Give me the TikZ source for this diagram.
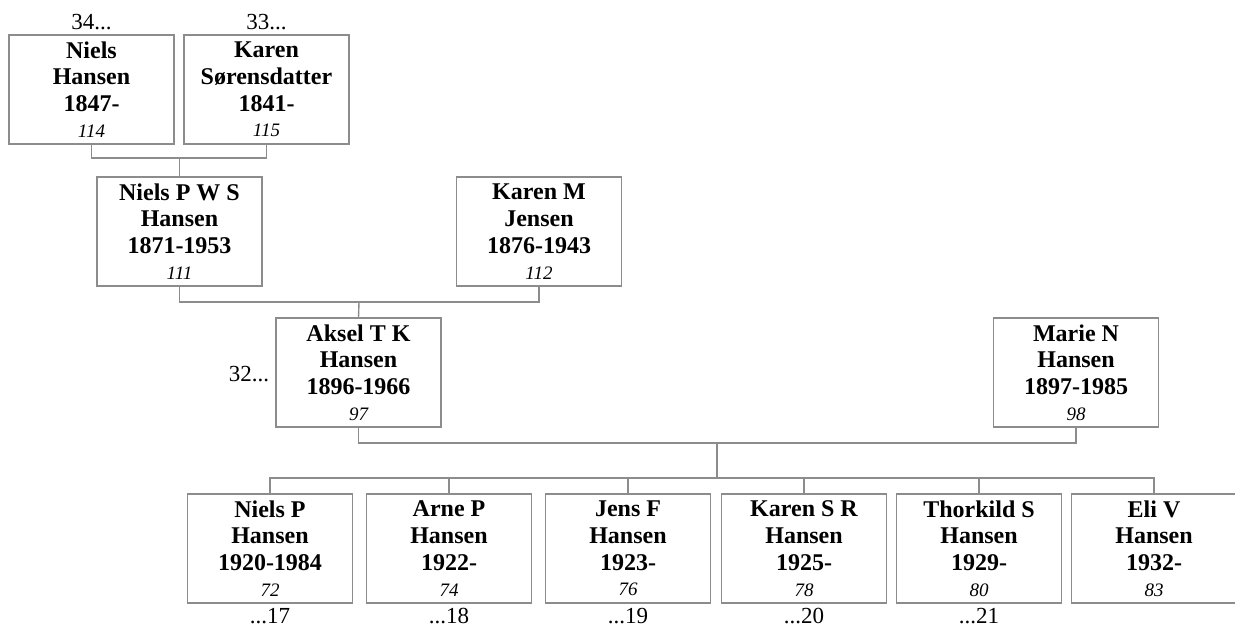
\documentclass[tikz,border=0pt]{standalone}
\usepackage{fontspec}
\setmainfont{Liberation Serif}
\definecolor{lc}{RGB}{140,140,140}
\begin{document}
\begin{tikzpicture}[x=1pt,y=-1pt,
  person/.style={draw=lc, line width=1.4pt, fill=white, minimum width=165pt, minimum height=109pt,
    inner sep=0pt, align=center, font=\fontsize{24}{26.8}\selectfont\bfseries},
  lbl/.style={font=\fontsize{23}{26}\selectfont, inner sep=0pt},
  conn/.style={draw=lc, line width=1.4pt}]
\useasboundingbox (0,0) rectangle (1235,628);
\newcommand{\pers}[4]{#1\\#2\\#3\\[-1pt]{\fontsize{19}{22}\selectfont\mdseries\itshape #4}}
% generation 1
\node[person] (n1) at (91.5,89.5) {\pers{Niels}{Hansen}{1847-}{114}};
\node[person] (k1) at (266.5,89.5) {\pers{Karen}{Sørensdatter}{1841-}{115}};
% generation 2
\node[person] (np) at (179.5,231.5) {\pers{Niels P W S}{Hansen}{1871-1953}{111}};
\node[person] (km) at (539,231.5) {\pers{Karen M}{Jensen}{1876-1943}{112}};
% generation 3
\node[person] (ak) at (358.5,372.5) {\pers{Aksel T K}{Hansen}{1896-1966}{97}};
\node[person] (mn) at (1076,372.5) {\pers{Marie N}{Hansen}{1897-1985}{98}};
% children
\node[person] (c1) at (270,548.5) {\pers{Niels P}{Hansen}{1920-1984}{72}};
\node[person] (c2) at (449,548.5) {\pers{Arne P}{Hansen}{1922-}{74}};
\node[person] (c3) at (628,548.5) {\pers{Jens F}{Hansen}{1923-}{76}};
\node[person] (c4) at (804,548.5) {\pers{Karen S R}{Hansen}{1925-}{78}};
\node[person] (c5) at (979,548.5) {\pers{Thorkild S}{Hansen}{1929-}{80}};
\node[person] (c6) at (1154,548.5) {\pers{Eli V}{Hansen}{1932-}{83}};
% labels
\node[lbl, anchor=base] (l34) at ([yshift=5pt]n1.north) {34...};
\node[lbl, anchor=base] (l33) at ([yshift=5pt]k1.north) {33...};
\node[lbl, anchor=base east] (l32) at ([xshift=-6pt,yshift=-9.5pt]ak.west) {32...};
\node[lbl, anchor=base] (l17) at ([yshift=-20pt]c1.south) {...17};
\node[lbl, anchor=base] (l18) at ([yshift=-20pt]c2.south) {...18};
\node[lbl, anchor=base] (l19) at ([yshift=-20pt]c3.south) {...19};
\node[lbl, anchor=base] (l20) at ([yshift=-20pt]c4.south) {...20};
\node[lbl, anchor=base] (l21) at ([yshift=-20pt]c5.south) {...21};
% connectors
\coordinate (j1) at (179.5,158);
\coordinate (j2) at (359,302);
\coordinate (j3) at (717,443);
\coordinate (j4) at (717,478);
\draw[conn] (n1.south) |- (j1) -| (k1.south);
\draw[conn] (j1) -- (np.north);
\draw[conn] (np.south) |- (j2) -| (km.south);
\draw[conn] (j2) -- (ak.north);
\draw[conn] (ak.south) |- (j3) -| (mn.south);
\draw[conn] (j3) -- (j4);
\draw[conn] (c1.north) |- (j4) -| (c6.north);
\foreach \c in {c2,c3,c4,c5} \draw[conn] (\c.north) -- (\c.north |- j4);
\end{tikzpicture}
\end{document}
